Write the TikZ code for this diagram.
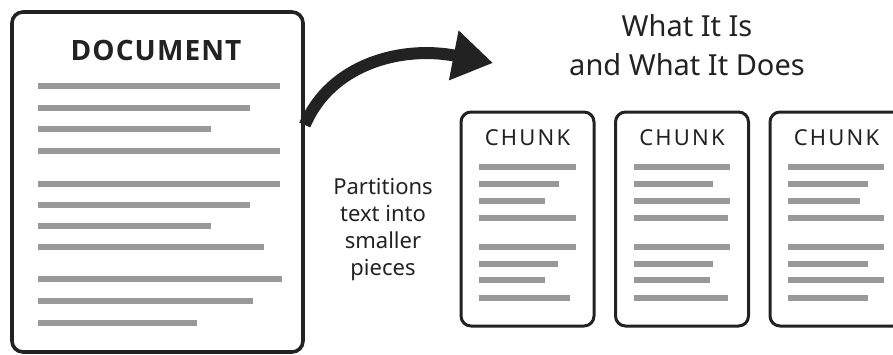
\documentclass[tikz,border=0pt]{standalone}
\usepackage{fontspec}
\setmainfont{Noto Sans}
\newfontfamily\headfont[LetterSpace=4]{Open Sans}
\newfontfamily\chunkfont[LetterSpace=10]{Noto Sans}
\usetikzlibrary{arrows.meta}
\definecolor{inkdark}{HTML}{222222}
\definecolor{rulegray}{HTML}{999999}
\tikzset{
	docstyle/.style={rectangle,rounded corners=11pt,draw=inkdark,line width=3.6pt,fill=white},
	chunkstyle/.style={rectangle,rounded corners=10pt,draw=inkdark,line width=3pt,fill=white,
		minimum width=133pt,minimum height=214pt},
	rulestyle/.style={draw=rulegray,line width=6pt},
	chunkrulestyle/.style={draw=rulegray,line width=5.5pt},
	flowstyle/.style={draw=inkdark,line width=12pt,-{Triangle[length=40pt,width=48pt]}}
}

\begin{document}
\begin{tikzpicture}[x=1pt,y=-1pt]
	\useasboundingbox (0,0) rectangle (893,354);
	\clip (0,0) rectangle (893,354);
	% source document
	\node[docstyle,minimum width=291pt,minimum height=340pt] (doc) at (157.5,182) {};
	\node[anchor=base,text=inkdark] (doctitle) at (156,60) {\headfont\bfseries\fontsize{28}{32}\selectfont DOCUMENT};
	\foreach \y/\r in {86/280,108/250,129/211,151/280,184/280,205/250,226/211,247/264,279/282,301/253,323/197}
		\draw[rulestyle] (38,\y) -- (\r,\y);
	% chunks
	\node[chunkstyle] (chunkA) at (527.5,219) {};
	\node[chunkstyle] (chunkB) at (682,219) {};
	\node[chunkstyle] (chunkC) at (836.5,219) {};
	\node[anchor=base,text=inkdark] (labelA) at (527.5,145) {\chunkfont\fontsize{22}{26}\selectfont CHUNK};
	\node[anchor=base,text=inkdark] (labelB) at (682,145) {\chunkfont\fontsize{22}{26}\selectfont CHUNK};
	\node[anchor=base,text=inkdark] (labelC) at (836.5,145) {\chunkfont\fontsize{22}{26}\selectfont CHUNK};
	\foreach \y/\r in {167/576,184/559,201/545,218/576,247/576,264/558,280/545,298/570}
		\draw[chunkrulestyle] (479,\y) -- (\r,\y);
	\foreach \y/\r in {167/730,184/713,201/730,218/728,247/730,264/713,280/710,298/728}
		\draw[chunkrulestyle] (634,\y) -- (\r,\y);
	\foreach \y/\r in {167/884,184/868,201/860,218/884,247/884,264/868,280/884,298/868}
		\draw[chunkrulestyle] (788,\y) -- (\r,\y);
	% heading and caption
	\node[align=center,text=inkdark,font=\fontsize{29}{39}\selectfont] (heading) at (687,45) {What It Is\\and What It Does};
	\node[align=center,text=inkdark,font=\fontsize{22}{27}\selectfont] (caption) at (383,230) {Partitions\\text into\\smaller\\pieces};
	% curved arrow
	\coordinate (tip) at (493,63);
	\draw[flowstyle] ([yshift=57pt]doc.east) .. controls (330,65) and (400,45) .. (tip);
\end{tikzpicture}
\end{document}
